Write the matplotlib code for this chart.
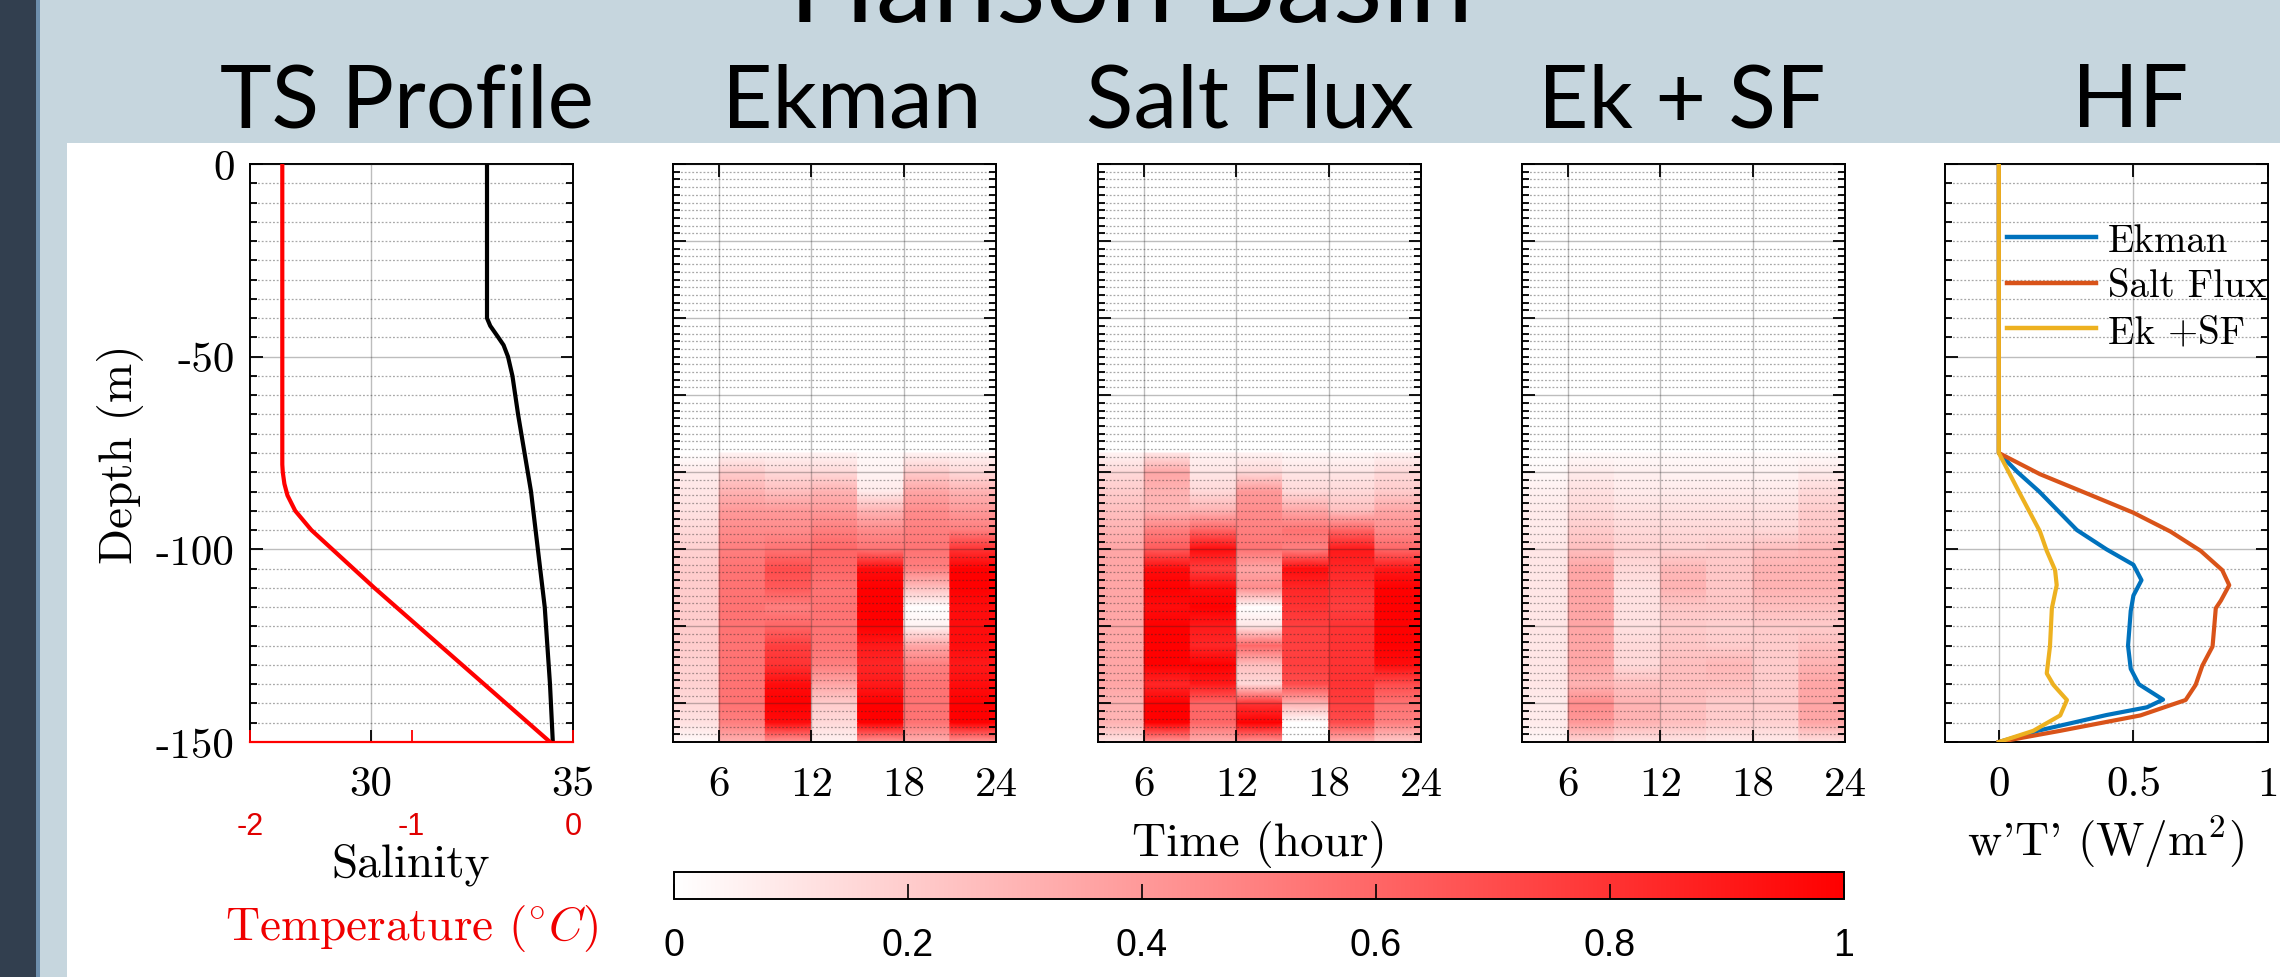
import numpy as np
import matplotlib
matplotlib.use("Agg")
import matplotlib.pyplot as plt
from matplotlib.colors import LinearSegmentedColormap
from matplotlib.ticker import MultipleLocator
from matplotlib.patches import Rectangle

plt.rcParams['mathtext.fontset'] = 'cm'
plt.rcParams['axes.unicode_minus'] = False

# ---------------- data ----------------
main_title = "Hanson Basin"
panel_titles = ["TS Profile", "Ekman", "Salt Flux", "Ek + SF", "HF"]

# TS profile
sal_depth = [0, -40, -42, -45, -47, -50, -55, -65, -75, -85, -100, -115, -135, -150]
salinity = [32.87, 32.87, 32.95, 33.15, 33.28, 33.39, 33.50, 33.64, 33.80, 33.96, 34.13, 34.30, 34.43, 34.50]
temp_depth = [0, -78, -80, -83, -86, -90, -95, -100, -105, -110, -115, -120, -125,
              -130, -135, -140, -145, -150]
temperature = [-1.80, -1.80, -1.797, -1.787, -1.768, -1.72, -1.62, -1.49, -1.36, -1.23,
               -1.094, -0.958, -0.822, -0.686, -0.55, -0.414, -0.278, -0.142]
sal_ticks = [30, 35]
temp_ticks = [-2, -1, 0]
depth_ticks = [0, -50, -100, -150]

# heat maps: 7 three-hour columns, values at depth nodes (normalised 0..1)
time_edges = [3, 6, 9, 12, 15, 18, 21, 24]
time_ticks = [6, 12, 18, 24]
hm_depth = [-75, -80, -85, -90, -95, -100, -105, -110, -115, -120, -125, -130,
            -135, -140, -145, -150]
ekman_cols = [
    [0.00, 0.08, 0.10, 0.12, 0.15, 0.18, 0.20, 0.20, 0.20, 0.20, 0.20, 0.18, 0.18, 0.15, 0.12, 0.02],
    [0.05, 0.20, 0.30, 0.40, 0.45, 0.50, 0.55, 0.55, 0.55, 0.55, 0.55, 0.55, 0.55, 0.55, 0.50, 0.30],
    [0.05, 0.15, 0.25, 0.40, 0.45, 0.55, 0.70, 0.65, 0.50, 0.60, 0.75, 0.80, 0.95, 1.00, 0.95, 0.40],
    [0.05, 0.15, 0.30, 0.40, 0.50, 0.60, 0.60, 0.55, 0.55, 0.55, 0.55, 0.50, 0.35, 0.20, 0.15, 0.05],
    [0.02, 0.05, 0.08, 0.30, 0.45, 0.55, 0.95, 1.00, 1.00, 1.00, 0.90, 0.85, 0.90, 1.00, 1.00, 0.40],
    [0.05, 0.20, 0.35, 0.45, 0.50, 0.55, 0.50, 0.25, 0.00, 0.05, 0.35, 0.50, 0.55, 0.55, 0.55, 0.30],
    [0.05, 0.15, 0.30, 0.40, 0.50, 0.80, 1.00, 1.00, 0.95, 0.95, 0.95, 0.90, 0.95, 1.00, 1.00, 0.40],
]
saltflux_cols = [
    [0.05, 0.15, 0.20, 0.25, 0.30, 0.35, 0.35, 0.35, 0.35, 0.35, 0.35, 0.35, 0.35, 0.30, 0.30, 0.10],
    [0.10, 0.35, 0.30, 0.30, 0.50, 0.65, 0.95, 1.00, 0.95, 1.00, 1.00, 1.00, 0.85, 1.00, 1.00, 0.40],
    [0.05, 0.10, 0.15, 0.30, 0.60, 0.95, 0.75, 0.95, 1.00, 0.90, 0.85, 1.00, 0.90, 0.60, 0.60, 0.30],
    [0.05, 0.15, 0.40, 0.45, 0.50, 0.55, 0.35, 0.45, 0.00, 0.10, 0.60, 0.25, 0.15, 0.80, 1.00, 0.40],
    [0.03, 0.10, 0.15, 0.35, 0.55, 0.50, 0.95, 0.85, 0.80, 0.75, 0.75, 0.75, 0.70, 0.30, 0.00, 0.00],
    [0.03, 0.10, 0.15, 0.25, 0.60, 0.90, 0.85, 0.80, 0.75, 0.80, 0.80, 0.80, 0.80, 0.75, 0.70, 0.30],
    [0.05, 0.15, 0.20, 0.35, 0.45, 0.60, 0.90, 1.00, 1.00, 1.00, 1.00, 0.95, 0.70, 0.55, 0.50, 0.20],
]
eksf_cols = [
    [0.00, 0.03, 0.06, 0.08, 0.08, 0.10, 0.10, 0.10, 0.10, 0.10, 0.10, 0.10, 0.10, 0.08, 0.08, 0.03],
    [0.02, 0.08, 0.12, 0.15, 0.20, 0.25, 0.35, 0.35, 0.35, 0.35, 0.35, 0.35, 0.30, 0.45, 0.40, 0.15],
    [0.02, 0.06, 0.08, 0.12, 0.15, 0.18, 0.15, 0.12, 0.12, 0.12, 0.15, 0.15, 0.25, 0.30, 0.30, 0.10],
    [0.02, 0.05, 0.08, 0.12, 0.15, 0.18, 0.28, 0.30, 0.22, 0.20, 0.22, 0.25, 0.25, 0.25, 0.25, 0.10],
    [0.02, 0.05, 0.08, 0.12, 0.15, 0.20, 0.22, 0.22, 0.22, 0.18, 0.20, 0.28, 0.25, 0.20, 0.20, 0.08],
    [0.02, 0.05, 0.08, 0.12, 0.15, 0.25, 0.30, 0.30, 0.25, 0.20, 0.20, 0.20, 0.20, 0.20, 0.18, 0.08],
    [0.02, 0.08, 0.15, 0.20, 0.22, 0.28, 0.30, 0.30, 0.25, 0.20, 0.25, 0.30, 0.35, 0.35, 0.35, 0.12],
]
cbar_ticks = [0, 0.2, 0.4, 0.6, 0.8, 1]
cbar_labels = ["0", "0.2", "0.4", "0.6", "0.8", "1"]

# heat flux profiles
hf_names = ["Ekman", "Salt Flux", "Ek +SF"]
ek_depth = [0, -75, -80, -85, -90, -95, -100, -104, -108, -112, -116, -125, -131, -135, -139, -141, -143, -147, -150]
ek_flux = [0, 0, 0.07, 0.15, 0.22, 0.29, 0.40, 0.50, 0.53, 0.50, 0.49, 0.48, 0.49, 0.52, 0.61, 0.55, 0.40, 0.15, 0]
sf_depth = [0, -75, -80.5, -85.5, -90.5, -95.4, -100.4, -105.4, -109.3, -113.3, -115.3, -120.3, -125.2, -130.2, -135.2, -139.1, -143.1, -147.1, -150]
sf_flux = [0, 0, 0.153, 0.327, 0.50, 0.638, 0.75, 0.83, 0.856, 0.825, 0.806, 0.80, 0.794, 0.756, 0.731, 0.694, 0.526, 0.228, 0]
eksf_depth = [0, -75, -85.5, -95.4, -100.4, -105.4, -109.3, -115.3, -125.2, -132.2, -135.2, -139.1, -143.1, -147.1, -150]
eksf_flux = [0, 0, 0.078, 0.153, 0.178, 0.209, 0.215, 0.197, 0.19, 0.178, 0.203, 0.253, 0.228, 0.128, 0]
hf_ticks = [0, 0.5, 1]
hf_tick_labels = ["0", "0.5", "1"]
hf_colors = ["#0072BD", "#D95319", "#EDB120"]

# ---------------- figure ----------------
W, H = 2280, 978
fig = plt.figure(figsize=(W / 100, H / 100), dpi=100)
fig.patch.set_facecolor("#C6D6DE")

def frect(x0, y0, x1, y1, color):
    fig.patches.append(Rectangle((x0 / W, 1 - y1 / H), (x1 - x0) / W, (y1 - y0) / H,
                                 transform=fig.transFigure, facecolor=color,
                                 edgecolor="none", zorder=-10))

frect(0, 0, 36, H, "#323F4F")
frect(36, 0, 40, H, "#6E8FAD")
frect(67, 144, W, H, "white")

def px_axes(x0, y0, x1, y1):
    return fig.add_axes([x0 / W, 1 - y1 / H, (x1 - x0) / W, (y1 - y0) / H])

def ftext(x, y, s, **kw):
    return fig.text(x / W, 1 - y / H, s, **kw)

SERIF = "cmr10"
TICK_FS = 31
LABEL_FS = 34
GRID_C = "#262626"

def depth_style(ax, major, minor, ylabels=False):
    ax.set_ylim(-150, 0)
    ax.yaxis.set_major_locator(MultipleLocator(major))
    ax.yaxis.set_minor_locator(MultipleLocator(minor))
    ax.tick_params(which="both", direction="in", top=True, right=True,
                   width=1.3, color="black")
    ax.tick_params(which="major", length=9)
    ax.tick_params(which="minor", length=5)
    ax.tick_params(axis="x", which="minor", top=False, bottom=False)
    if ylabels:
        ax.set_yticks(depth_ticks, labels=[str(v) for v in depth_ticks])
        for t in ax.get_yticklabels():
            t.set_fontfamily(SERIF)
            t.set_fontsize(TICK_FS)
        ax.tick_params(axis="y", which="major", pad=11)
    else:
        ax.set_yticklabels([])
    ax.set_axisbelow(False)
    ax.grid(which="major", color=GRID_C, alpha=0.3, lw=1.0)
    ax.grid(which="minor", axis="y", color=GRID_C, alpha=0.4, lw=0.9,
            linestyle=(0, (1.5, 1.5)))
    for s in ax.spines.values():
        s.set_linewidth(1.4)
        s.set_color("black")

def xticklabels_serif(ax, ticks, labels):
    ax.set_xticks(ticks, labels=labels)
    for t in ax.get_xticklabels():
        t.set_fontfamily(SERIF)
        t.set_fontsize(TICK_FS)
    ax.tick_params(axis="x", which="major", pad=17)

# ---- panel 1 : TS profile ----
ax1 = px_axes(250, 165, 573, 743)
ax1.plot(salinity, sal_depth, color="black", lw=3, zorder=4)
ax1.set_xlim(27, 35)
depth_style(ax1, 50, 5, ylabels=True)
xticklabels_serif(ax1, sal_ticks, [str(v) for v in sal_ticks])
ftext(121, 454, "Depth (m)", rotation=90, ha="center", va="center",
      fontfamily=SERIF, fontsize=LABEL_FS)

axT = ax1.twiny()
axT.plot(temperature, temp_depth, color="red", lw=3, zorder=4)
axT.set_xlim(-2, 0)
axT.set_ylim(-150, 0)
axT.xaxis.set_ticks_position("bottom")
axT.xaxis.set_label_position("bottom")
axT.set_xticks(temp_ticks, labels=[str(v) for v in temp_ticks])
axT.tick_params(axis="x", direction="in", length=9, width=1.3, color="red",
                labelcolor="#E00000", labelsize=22, pad=50)
for t in axT.get_xticklabels():
    t.set_fontfamily("Liberation Sans")
for k in ["top", "left", "right"]:
    axT.spines[k].set_visible(False)
axT.spines["bottom"].set_color("red")
axT.spines["bottom"].set_linewidth(1.6)

ftext(411, 876, "Salinity", ha="center", va="baseline",
      fontfamily=SERIF, fontsize=LABEL_FS)
ftext(411, 940, r"Temperature ($^{\circ}C$)", ha="center", va="baseline",
      fontfamily=SERIF, fontsize=LABEL_FS, color="#F00000")

# ---- heat maps ----
cmap = LinearSegmentedColormap.from_list("white_red", ["#FFFFFF", "#FF0000"])
xg = np.repeat(np.array(time_edges, dtype=float), 2)[1:-1]
yg = np.array(hm_depth, dtype=float)
Xg, Yg = np.meshgrid(xg, yg)

hm_boxes = [(673, 996), (1098, 1421), (1522, 1845)]
mesh = None
for cols, (x0, x1) in zip([ekman_cols, saltflux_cols, eksf_cols], hm_boxes):
    ax = px_axes(x0, 165, x1, 743)
    Z = np.repeat(np.array(cols, dtype=float).T, 2, axis=1)
    mesh = ax.pcolormesh(Xg, Yg, Z, shading="gouraud", cmap=cmap, vmin=0, vmax=1,
                         zorder=1, rasterized=True)
    ax.set_xlim(time_edges[0], time_edges[-1])
    depth_style(ax, 20, 2)
    xticklabels_serif(ax, time_ticks, [str(v) for v in time_ticks])

ftext(1259, 856, "Time (hour)", ha="center", va="baseline",
      fontfamily=SERIF, fontsize=LABEL_FS)

# colorbar
cax = px_axes(674, 873, 1844, 900)
cb = fig.colorbar(mesh, cax=cax, orientation="horizontal")
cb.set_ticks(cbar_ticks, labels=cbar_labels)
cb.outline.set_linewidth(1.4)
cax.tick_params(direction="in", length=11, width=1.2, pad=20, labelsize=27)
for t in cax.get_xticklabels():
    t.set_fontfamily("Liberation Sans")

# ---- panel 5 : heat flux ----
ax5 = px_axes(1945, 165, 2268, 743)
for d, f, c, n in zip([ek_depth, sf_depth, eksf_depth], [ek_flux, sf_flux, eksf_flux],
                      hf_colors, hf_names):
    ax5.plot(f, d, color=c, lw=3, label=n, zorder=4)
ax5.set_xlim(-0.2, 1.0)
depth_style(ax5, 50, 5)
xticklabels_serif(ax5, hf_ticks, hf_tick_labels)
ftext(2106, 856, r"w'T' (W/m$^{2}$)", ha="center", va="baseline",
      fontfamily=SERIF, fontsize=LABEL_FS)
leg = ax5.legend(loc="upper left", bbox_to_anchor=(2007 / W, 1 - 224 / H),
                 bbox_transform=fig.transFigure, frameon=False,
                 prop={"family": SERIF, "size": 28}, handlelength=2.3,
                 handletextpad=0.3, labelspacing=0.25, borderpad=0, borderaxespad=0)
for l in leg.get_lines():
    l.set_linewidth(3.2)

# ---- titles ----
centers = [407, 852, 1250, 1682, 2130]
for t, cx in zip(panel_titles, centers):
    ftext(cx, 127, t, ha="center", va="baseline",
          fontfamily="Lato", fontsize=63, color="black")
ftext(1131, 22, main_title, ha="center", va="baseline",
      fontfamily="Lato", fontsize=82, color="black")

fig.savefig("out.png", dpi=100, facecolor=fig.get_facecolor())
